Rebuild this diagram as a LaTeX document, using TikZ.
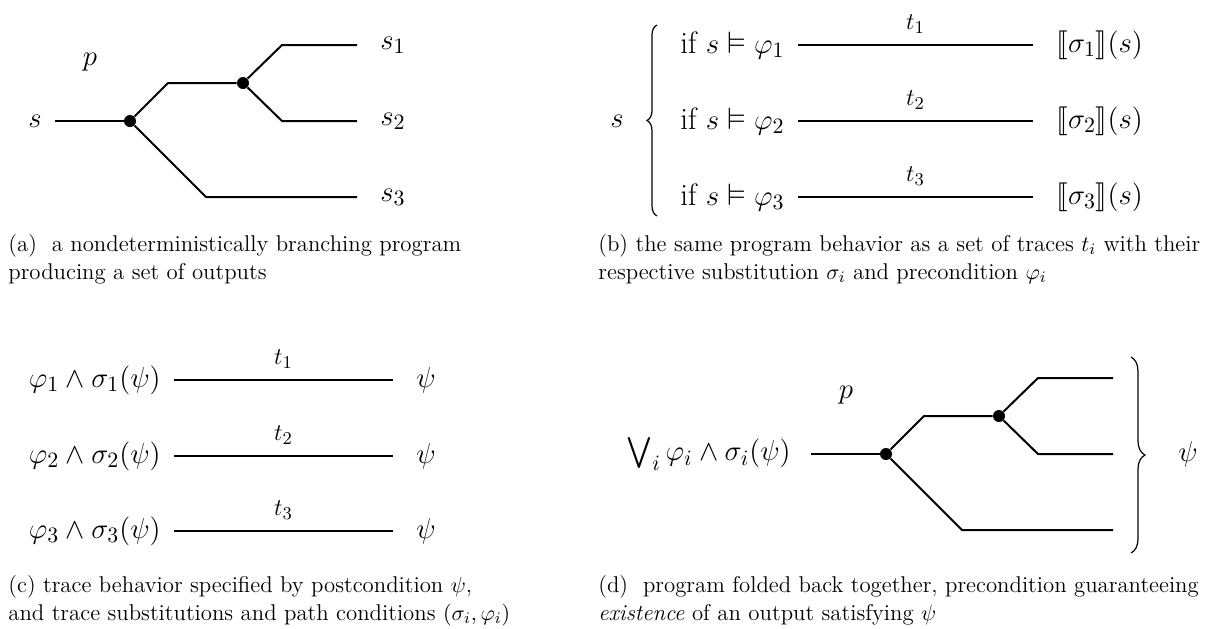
\documentclass[tikz,border=0pt]{standalone}
\usepackage{amsmath,amssymb}
\usepackage{stmaryrd}
\usetikzlibrary{positioning, decorations.pathreplacing}

\begin{document}
\begin{tikzpicture}[
    x=0.5pt, y=-0.5pt,
    wire/.style={line width=1pt},
    dot/.style={circle, fill, inner sep=0pt, minimum size=6pt},
    prog/.style={font=\fontsize{15.5}{18.5}\selectfont},
    pre/.style={prog, anchor=east, inner xsep=6.5pt},
    post/.style={prog, anchor=west, inner xsep=11.5pt},
    trace/.style={font=\fontsize{12.5}{15}\selectfont, midway, above=2pt},
    curly/.style={decorate, decoration={brace, amplitude=#1}, line width=0.6pt},
    caption/.style={anchor=north west, align=left, inner sep=0pt, font=\fontsize{11.4}{13.8}\selectfont},
  ]
  \useasboundingbox (0,0) rectangle (1222,628);

  % ---------------- (a) branching program ----------------
  \node[pre]  (a-in) at (55,121)  {$s$};
  \node[prog] (a-p)  at (90,62)   {$p$};
  \node[dot]  (a-n1) at (130,121) {};
  \node[dot]  (a-n2) at (243,83)  {};
  \coordinate (a-up)  at (168,83);
  \coordinate (a-hi)  at (282,45);
  \coordinate (a-mid) at (282,121);
  \coordinate (a-lo)  at (206,197);
  \node[post] (s1) at (357,45)  {$s_1$};
  \node[post] (s2) at (357,121) {$s_2$};
  \node[post] (s3) at (357,197) {$s_3$};

  \draw[wire] (a-in) -- (a-n1);
  \draw[wire] (a-n1) -- (a-up) -- (a-n2);
  \draw[wire] (a-n2) -- (a-hi) -- (s1);
  \draw[wire] (a-n2) -- (a-mid) -- (s2);
  \draw[wire] (a-n1) -- (a-lo) -- (s3);

  % ---------------- (b) set of traces ----------------
  \node[prog] (b-in) at (617,121) {$s$};
  \draw[curly=5pt] (657,216) -- (657,25);
  \foreach \i/\y in {1/45, 2/121, 3/197} {
    \node[pre]  (cond\i) at (798,\y)  {$\text{if } s \vDash \varphi_\i$};
    \node[post] (img\i)  at (1033,\y) {$\llbracket\sigma_\i\rrbracket(s)$};
    \draw[wire] (cond\i) -- node[trace] {$t_\i$} (img\i);
  }

  % ---------------- (c) postcondition per trace ----------------
  \foreach \i/\y in {1/380, 2/456, 3/531} {
    \node[pre]  (wp\i)   at (174,\y) {$\varphi_\i \wedge \sigma_\i(\psi)$};
    \node[post] (post\i) at (393,\y) {$\psi$};
    \draw[wire] (wp\i) -- node[trace] {$t_\i$} (post\i);
  }

  % ---------------- (d) folded program ----------------
  \begin{scope}[shift={(756,333)}]
    \node[pre, inner xsep=10pt] (d-in) at (55,121) {$\bigvee_i \varphi_i \wedge \sigma_i(\psi)$};
    \node[prog] (d-p)  at (90,62)   {$p$};
    \node[dot]  (d-n1) at (130,121) {};
    \node[dot]  (d-n2) at (243,83)  {};
    \coordinate (d-up)  at (168,83);
    \coordinate (d-hi)  at (282,45);
    \coordinate (d-mid) at (282,121);
    \coordinate (d-lo)  at (206,197);
    \coordinate (d-o1) at (357,45);
    \coordinate (d-o2) at (357,121);
    \coordinate (d-o3) at (357,197);
  \end{scope}
  \node[prog] (d-post) at (1188,454) {$\psi$};

  \draw[wire] (d-in) -- (d-n1);
  \draw[wire] (d-n1) -- (d-up) -- (d-n2);
  \draw[wire] (d-n2) -- (d-hi) -- (d-o1);
  \draw[wire] (d-n2) -- (d-mid) -- (d-o2);
  \draw[wire] (d-n1) -- (d-lo) -- (d-o3);
  \draw[curly=7pt] (1131,357) -- (1131,553);

  % ---------------- captions ----------------
  \node[caption] (cap-a) at (8,234)
    {(a)\ \ a nondeterministically branching program\\producing a set of outputs};
  \node[caption] (cap-b) at (598,234)
    {(b) the same program behavior as a set of traces $t_i$ with their\\respective substitution $\sigma_i$ and precondition $\varphi_i$};
  \node[caption] (cap-c) at (8,575)
    {(c) trace behavior specified by postcondition $\psi$,\\and trace substitutions and path conditions $(\sigma_i,\varphi_i)$};
  \node[caption] (cap-d) at (598,575)
    {(d)\ \ program folded back together, precondition guaranteeing\\\emph{existence} of an output satisfying $\psi$};
\end{tikzpicture}
\end{document}
